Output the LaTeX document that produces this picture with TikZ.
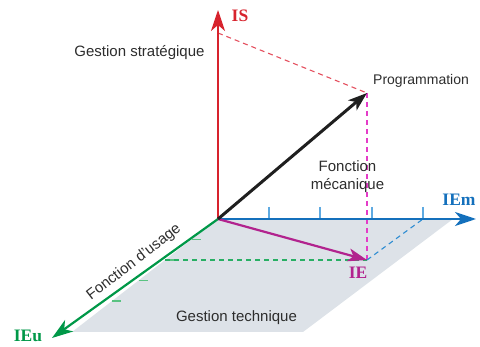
\documentclass[tikz,border=0pt]{standalone}
\usepackage{fontspec}
\setmainfont{Liberation Sans}
\newfontfamily\lblfont{Liberation Serif}
\usetikzlibrary{arrows.meta}
\definecolor{axred}{RGB}{215,35,45}
\definecolor{axblue}{RGB}{20,112,188}
\definecolor{axgreen}{RGB}{0,152,72}
\definecolor{axmag}{RGB}{178,35,142}
\definecolor{dred}{RGB}{228,80,95}
\definecolor{dmag}{RGB}{228,60,200}
\definecolor{dblue}{RGB}{45,140,210}
\definecolor{dgreen}{RGB}{40,175,100}
\definecolor{tickblue}{RGB}{95,170,225}
\definecolor{tickgreen}{RGB}{90,195,130}
\definecolor{planegray}{RGB}{221,226,232}
\definecolor{txt}{RGB}{45,45,45}
\tikzset{
  axis/.style={line width=#1, -{Stealth[length=21pt,width=14pt,inset=6pt]}},
  vec/.style={line width=#1, -{Stealth[length=19pt,width=13pt,inset=5pt]}},
  proj/.style={line width=1.1pt, dash pattern=on 5pt off 4pt},
  tickb/.style={line width=1.1pt, tickblue},
  tickg/.style={line width=1.1pt, tickgreen},
  sans/.style={inner sep=0pt, text=txt, font=\fontsize{15}{18}\selectfont},
  big/.style={inner sep=0pt, font=\lblfont\bfseries\fontsize{17.5}{20}\selectfont}
}
\begin{document}
\begin{tikzpicture}[x=1pt,y=-1pt]
\useasboundingbox (0,0) rectangle (480,347);
% points
\coordinate (O) at (218,219);
\coordinate (ISend) at (218,10);
\coordinate (IEmend) at (476,219);
\coordinate (IEuend) at (52,338);
\coordinate (P) at (367,93);
\coordinate (IEp) at (367,260);
\coordinate (ISproj) at (218,33);
\coordinate (IEmproj) at (423,219);
\coordinate (IEuproj) at (165,260);
\coordinate (PL1) at (453,219);
\coordinate (PL2) at (303,332);
\coordinate (PL3) at (72,332);
% plane
\fill[planegray] (O) -- (PL1) -- (PL2) -- (PL3) -- cycle;
% ticks
\foreach \x in {269,320,372,423} \draw[tickb] (\x,207) -- (\x,219);
\foreach \k in {1,2,3,4} \draw[tickg] ({218-26.5*\k},{219+20.5*\k}) -- ({218-26.5*\k+9},{219+20.5*\k});
% dashed projections
\draw[proj, dred] (ISproj) -- (P);
\draw[proj, dmag] (P) -- (IEp);
\draw[proj, dblue] (IEp) -- (IEmproj);
\draw[proj, dgreen] (IEuproj) -- (IEp);
% axes
\draw[axis=1.8pt, axred] (O) -- (ISend);
\draw[axis=2.2pt, axblue] (O) -- (IEmend);
\draw[axis=2.2pt, axgreen] (O) -- (IEuend);
% vectors
\draw[vec=2.2pt, axmag] (O) -- (IEp);
\draw[vec=3pt, black!88] (O) -- (P);
% labels
\node[big, text=axred] (lIS) at (240,16) {IS};
\node[big, text=axblue] (lIEm) at (459,200) {IEm};
\node[big, text=axgreen] (lIEu) at (28,336) {IEu};
\node[big, text=axmag] (lIE) at (358,273) {IE};
\node[sans, anchor=base] (gs) at (139.5,57) {Gestion stratégique};
\node[sans, anchor=base] (gt) at (236.5,322) {Gestion technique};
\node[sans, anchor=base west, font=\fontsize{14}{17}\selectfont] (prog) at (373,85) {Programmation};
\node[sans, anchor=base] (fm1) at (347.5,172) {Fonction};
\node[sans, anchor=base] (fm2) at (347.5,190) {mécanique};
\node[sans, anchor=base, rotate=37.7] (fu) at (136.4,265.6) {Fonction d'usage};
\end{tikzpicture}
\end{document}
